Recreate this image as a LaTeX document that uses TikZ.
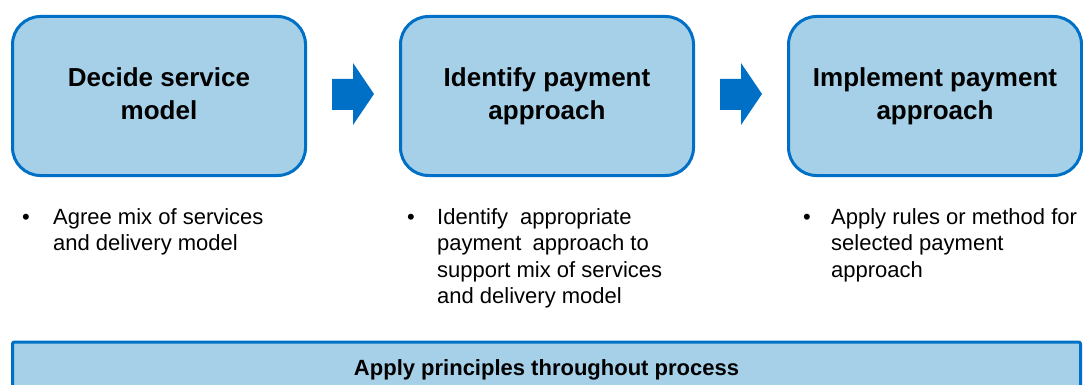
\documentclass[tikz,border=0pt]{standalone}
\usepackage{fontspec}
\setmainfont{Liberation Sans}
\usepackage{xcolor}
\usepackage{tikz}
\usetikzlibrary{calc}
\definecolor{paleblue}{HTML}{A5D0E8}
\definecolor{edgeblue}{HTML}{0070C6}
\tikzset{
  stage/.style={draw=edgeblue, fill=paleblue, line width=3pt, rounded corners=28pt,
    minimum width=293pt, minimum height=159pt, align=center,
    font=\bfseries\fontsize{26}{33}\selectfont,
    execute at begin node={\rule{0pt}{21.5pt}},
    execute at end node={\rule[-5.5pt]{0pt}{1pt}}},
  band/.style={draw=edgeblue, fill=paleblue, line width=3pt, rounded corners=2pt,
    minimum width=1068pt, minimum height=55pt, anchor=north,
    font=\bfseries\fontsize{22}{26.5}\selectfont},
  flow/.style={fill=edgeblue},
  note/.style={align=left, inner sep=0pt, anchor=north west, font=\fontsize{22}{26.5}\selectfont},
  dotmark/.style={inner sep=0pt, anchor=base west, font=\fontsize{22}{26.5}\selectfont}
}

\begin{document}
\begin{tikzpicture}[x=1pt, y=-1pt]
\useasboundingbox (0,0) rectangle (1083,385);
% three stages
\node[stage] (decide) at (159,96) {Decide service\\model};
\node[stage] (identify) at (547,96) {Identify payment\\approach};
\node[stage] (implement) at (935,96) {Implement payment\\approach};
% block arrows between stages
\foreach \a/\b in {decide/identify, identify/implement} {
  \coordinate (mid) at ($(\a.east)!0.5!(\b.west)$);
  \begin{scope}[shift={(mid)}]
    \fill[flow] (-21,-17) -- (0,-17) -- (0,-33) -- (21,-2) -- (0,29) -- (0,14) -- (-21,14) -- cycle;
  \end{scope}
}
% notes under each stage
\node[dotmark] (dot1) at (22,224) {\textbullet};
\node[note] (note1) at (53,208) {Agree mix of services\\and delivery model};
\node[dotmark] (dot2) at (407,224) {\textbullet};
\node[note] (note2) at (437,208) {Identify\hspace{6pt} appropriate\\payment\hspace{5pt} approach to\\support mix of services\\and delivery model};
\node[dotmark] (dot3) at (803,224) {\textbullet};
\node[note] (note3) at (831,208) {Apply rules or method for\\selected payment\\approach};
% principles band
\node[band] (principles) at (546.5,340.5) {Apply principles throughout process};
\end{tikzpicture}
\end{document}
